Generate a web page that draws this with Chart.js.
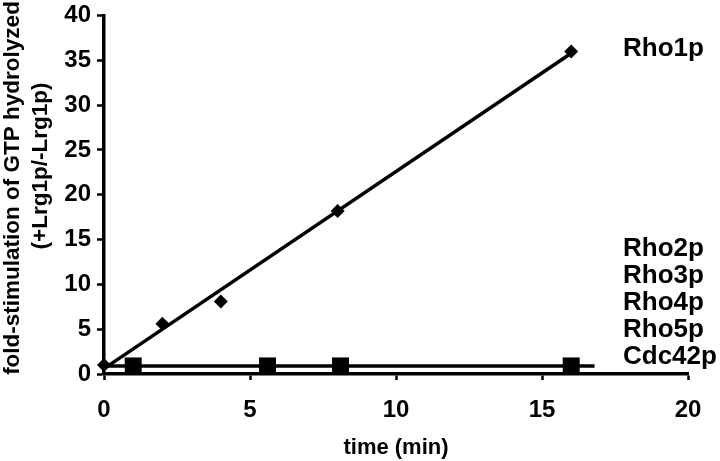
<!DOCTYPE html>
<html>
<head>
<meta charset="utf-8">
<script src="https://cdn.jsdelivr.net/npm/chart.js@4.4.1/dist/chart.umd.min.js"></script>
<style>
  html, body { margin: 0; padding: 0; background: #fff; }
</style>
</head>
<body>
<canvas id="chart" width="720" height="461"></canvas>
<script>
// values
const rho1Time = [0, 2, 4, 8, 16];
const rho1Fold = [1.0, 5.6, 8.1, 18.2, 36.0];
const rho1FitTime = [0, 16];
const rho1FitFold = [0.6, 35.8];

const otherTime = [1, 5.6, 8.1, 16];
const otherFold = [0.9, 0.9, 0.9, 0.9];
const otherFitTime = [0, 16.8];
const otherFitFold = [0.9, 0.9];

const topLabel = 'Rho1p';
const groupLabels = ['Rho2p', 'Rho3p', 'Rho4p', 'Rho5p', 'Cdc42p'];

const xTicks = [0, 5, 10, 15, 20];
const yTicks = [0, 5, 10, 15, 20, 25, 30, 35, 40];
const xTitle = 'time (min)';
const yTitle = ['fold-stimulation of GTP hydrolyzed', '(+Lrg1p/-Lrg1p)'];

const FONT = "'Liberation Sans', Arial, sans-serif";

function pts(xs, ys) {
    return xs.map((x, i) => ({ x: x, y: ys[i] }));
}

// series names at the right edge + the two-line y title
const textPlugin = {
    id: 'sideText',
    afterDraw(chart) {
        const ctx = chart.ctx;
        const y = chart.scales.y;
        ctx.save();
        ctx.fillStyle = '#000';
        ctx.font = 'bold 26px ' + FONT;
        ctx.textAlign = 'left';
        ctx.textBaseline = 'middle';
        ctx.fillText(topLabel, 623, y.getPixelForValue(rho1Fold[rho1Fold.length - 1]) - 3);
        const base = y.getPixelForValue(otherFold[0]) - 9;
        groupLabels.forEach((lab, i) => {
            ctx.fillText(lab, 623, base - (groupLabels.length - 1 - i) * 27);
        });

        // rotated axis title
        ctx.font = 'bold 22.5px ' + FONT;
        ctx.textAlign = 'center';
        ctx.save();
        ctx.translate(13, 188);
        ctx.rotate(-Math.PI / 2);
        ctx.fillText(yTitle[0], 0, 0);
        ctx.restore();
        ctx.save();
        ctx.translate(41, 166);
        ctx.rotate(-Math.PI / 2);
        ctx.fillText(yTitle[1], 0, 0);
        ctx.restore();
        ctx.restore();
    }
};

const ctx = document.getElementById('chart').getContext('2d');
new Chart(ctx, {
    type: 'scatter',
    data: {
        datasets: [
            {
                label: topLabel,
                data: pts(rho1Time, rho1Fold),
                pointStyle: 'rectRot',
                pointRadius: 7,
                backgroundColor: '#000',
                borderColor: '#000',
                borderWidth: 0,
                showLine: false,
                clip: false
            },
            {
                label: topLabel + ' fit',
                data: pts(rho1FitTime, rho1FitFold),
                showLine: true,
                pointRadius: 0,
                borderColor: '#000',
                borderWidth: 3.5,
                clip: false
            },
            {
                label: groupLabels.join(', '),
                data: pts(otherTime, otherFold),
                pointStyle: 'rect',
                pointRadius: 12,
                backgroundColor: '#000',
                borderColor: '#000',
                borderWidth: 0,
                showLine: false,
                clip: false
            },
            {
                label: 'group fit',
                data: pts(otherFitTime, otherFitFold),
                showLine: true,
                pointRadius: 0,
                borderColor: '#000',
                borderWidth: 3.5,
                clip: false
            }
        ]
    },
    options: {
        responsive: false,
        animation: false,
        layout: { padding: { top: 10, right: 32, left: 0, bottom: 0 } },
        plugins: {
            legend: { display: false },
            tooltip: { enabled: false }
        },
        scales: {
            x: {
                type: 'linear',
                min: xTicks[0],
                max: xTicks[xTicks.length - 1],
                afterFit(scale) { scale.height = 87; },
                border: { display: true, color: '#000', width: 3.5 },
                grid: { drawOnChartArea: false, drawTicks: true, tickLength: 6, tickWidth: 2.5, tickColor: '#000' },
                ticks: {
                    stepSize: xTicks[1] - xTicks[0],
                    padding: 16,
                    color: '#000',
                    font: { family: FONT, size: 24, weight: 'bold', lineHeight: 1.2 }
                },
                title: {
                    display: true,
                    text: xTitle,
                    color: '#000',
                    padding: { top: 0, bottom: 0 },
                    font: { family: FONT, size: 22, weight: 'bold', lineHeight: 1.2 }
                }
            },
            y: {
                type: 'linear',
                min: yTicks[0],
                max: yTicks[yTicks.length - 1],
                afterFit(scale) { scale.width = 104; },
                border: { display: true, color: '#000', width: 3.5 },
                grid: { drawOnChartArea: false, drawTicks: true, tickLength: 7, tickWidth: 2.5, tickColor: '#000' },
                ticks: {
                    stepSize: yTicks[1] - yTicks[0],
                    padding: 6,
                    color: '#000',
                    font: { family: FONT, size: 24, weight: 'bold', lineHeight: 0.8 }
                }
            }
        }
    },
    plugins: [textPlugin]
});
</script>
</body>
</html>
